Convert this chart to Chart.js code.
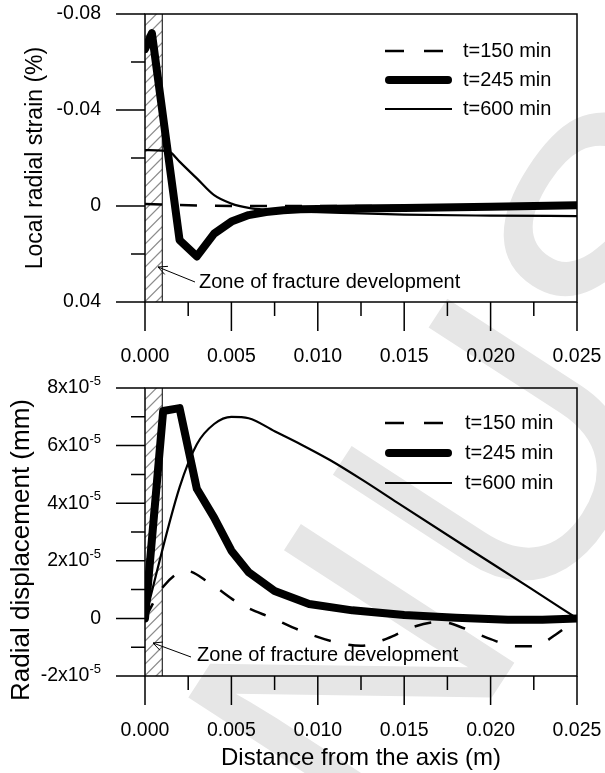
<!DOCTYPE html>
<html>
<head>
<meta charset="utf-8">
<script src="https://cdn.jsdelivr.net/npm/chart.js@4.4.1/dist/chart.umd.min.js"></script>
<style>
  html, body { margin: 0; padding: 0; background: #fff; }
  #wrap { position: relative; width: 605px; height: 773px; overflow: hidden; }
  #mark { position: absolute; left: 0; top: 0; }
  .box { position: absolute; left: 0; width: 605px; }
  #top { top: 0; height: 372px; }
  #bottom { top: 372px; height: 401px; }
</style>
</head>
<body>
<div id="wrap">
  <canvas id="mark" width="605" height="773"></canvas>
  <div class="box" id="top"><canvas id="strainChart"></canvas></div>
  <div class="box" id="bottom"><canvas id="dispChart"></canvas></div>
</div>
<script>
// ---------- distance axis (m) ----------
const xMajorTicks = [0, 0.005, 0.010, 0.015, 0.020, 0.025];
const xMinorTicks = [0.0025, 0.0075, 0.0125, 0.0175, 0.0225];
const xTickLabels = ["0.000", "0.005", "0.010", "0.015", "0.020", "0.025"];
const zoneWidth = 0.001; // fracture zone next to the axis

// ---------- local radial strain (%) ----------
const strainMajorTicks = [-0.08, -0.04, 0, 0.04];
const strainMinorTicks = [-0.06, -0.02, 0.02];
const strainTickLabels = ["-0.08", "-0.04", "0", "0.04"];

const rStrain150 = [0, 0.001, 0.003, 0.005, 0.010, 0.015, 0.020, 0.025];
const strain150  = [-0.0008, -0.0006, -0.0002, 0, 0, 0, 0, 0];

const rStrain245 = [0, 0.0004, 0.002, 0.003, 0.004, 0.005, 0.006, 0.007, 0.008, 0.009, 0.010, 0.012, 0.015, 0.020, 0.025];
const strain245  = [-0.0654, -0.072, 0.0142, 0.021, 0.0115, 0.0065, 0.0038, 0.0025, 0.0018, 0.0014, 0.0012, 0.001, 0.0008, 0.0003, -0.0003];

const rStrain600 = [0, 0.001, 0.0015, 0.002, 0.003, 0.004, 0.005, 0.006, 0.007, 0.008, 0.010, 0.012, 0.015, 0.020, 0.025];
const strain600  = [-0.0233, -0.0231, -0.0222, -0.0185, -0.0115, -0.0045, -0.001, 0.0008, 0.0016, 0.002, 0.0026, 0.003, 0.0036, 0.004, 0.0042];

// ---------- radial displacement (mm) ----------
const dispMajorTicks = [-2e-5, 0, 2e-5, 4e-5, 6e-5, 8e-5];
const dispMinorTicks = [-1e-5, 1e-5, 3e-5, 5e-5, 7e-5];
const dispTickBase = ["-2x10", "0", "2x10", "4x10", "6x10", "8x10"];
const dispTickExp  = ["-5", "", "-5", "-5", "-5", "-5"];

const rDisp150 = [0, 0.00105, 0.0024, 0.0038, 0.0055, 0.0074, 0.0094, 0.0112, 0.0125, 0.014, 0.0155, 0.0171, 0.0185, 0.020, 0.0215, 0.0225, 0.0238, 0.025];
const disp150  = [0, 1.1e-5, 1.65e-5, 1.2e-5, 0.5e-5, 0, -0.52e-5, -0.85e-5, -0.95e-5, -0.7e-5, -0.3e-5, -0.12e-5, -0.35e-5, -0.72e-5, -0.97e-5, -0.97e-5, -0.55e-5, 0];

const rDisp245 = [0, 0.00105, 0.002, 0.003, 0.004, 0.005, 0.006, 0.0075, 0.0095, 0.012, 0.015, 0.018, 0.021, 0.023, 0.025];
const disp245  = [0, 7.2e-5, 7.3e-5, 4.5e-5, 3.5e-5, 2.35e-5, 1.6e-5, 0.95e-5, 0.5e-5, 0.28e-5, 0.12e-5, 0.02e-5, -0.05e-5, -0.05e-5, 0];

const rDisp600 = [0, 0.002, 0.003, 0.004, 0.005, 0.006, 0.0075, 0.009, 0.0107, 0.0126, 0.0146, 0.0184, 0.0223, 0.025];
const disp600  = [0, 4.55e-5, 6.05e-5, 6.75e-5, 7.0e-5, 6.95e-5, 6.5e-5, 6.05e-5, 5.5e-5, 4.8e-5, 4.02e-5, 2.55e-5, 1.05e-5, 0];

const seriesLabels = ["t=150 min", "t=245 min", "t=600 min"];

const FONT = '"Liberation Sans", Arial, Helvetica, sans-serif';

const pts = (xs, ys) => xs.map((x, i) => ({ x: x, y: ys[i] }));

// faint diagonal stamp behind both plots
(function drawStamp() {
  const ctx = document.getElementById("mark").getContext("2d");
  ctx.save();
  ctx.translate(83, 1327);
  ctx.rotate(-57 * Math.PI / 180);
  ctx.font = "370px " + FONT;
  ctx.fillStyle = "#e6e6e6";
  ctx.textBaseline = "alphabetic";
  ctx.fillText("MANUSCRIPT", 0, 0);
  ctx.restore();
})();

// the three line styles: dashed / thick / thin
function makeDatasets(set150, set245, set600) {
  return [
    { label: seriesLabels[0], data: set150, borderColor: "#000", borderWidth: 2.5, borderDash: [17, 18], pointRadius: 0, cubicInterpolationMode: "monotone", order: 3 },
    { label: seriesLabels[1], data: set245, borderColor: "#000", borderWidth: 8, borderCapStyle: "round", borderJoinStyle: "round", pointRadius: 0, tension: 0, order: 2 },
    { label: seriesLabels[2], data: set600, borderColor: "#000", borderWidth: 2.2, borderJoinStyle: "round", pointRadius: 0, cubicInterpolationMode: "monotone", order: 1 }
  ];
}

// frame, ticks, labels, hatch zone, key and annotation
const framePlugin = {
  id: "frame",
  beforeDatasetsDraw(chart) {
    const { ctx, chartArea: a, scales: { x } } = chart;
    const x0 = x.getPixelForValue(0), x1 = x.getPixelForValue(zoneWidth);
    const w = x1 - x0;
    ctx.save();
    ctx.fillStyle = "#fff";
    ctx.fillRect(x0, a.top, w, a.bottom - a.top);
    ctx.beginPath();
    ctx.rect(x0, a.top, w, a.bottom - a.top);
    ctx.clip();
    ctx.strokeStyle = "#8c8c8c";
    ctx.lineWidth = 1.2;
    for (let yy = a.top; yy < a.bottom + w + 12; yy += 11.5) {
      ctx.beginPath();
      ctx.moveTo(x0, yy);
      ctx.lineTo(x1, yy - w);
      ctx.stroke();
    }
    ctx.restore();
    ctx.save();
    ctx.strokeStyle = "#000";
    ctx.lineWidth = 1;
    ctx.beginPath();
    ctx.moveTo(x1, a.top);
    ctx.lineTo(x1, a.bottom);
    ctx.stroke();
    ctx.restore();
  },
  afterDraw(chart, args, o) {
    const { ctx, chartArea: a, scales: { x, y } } = chart;
    ctx.save();
    ctx.strokeStyle = "#000";
    ctx.fillStyle = "#000";
    ctx.lineWidth = 1.5;
    ctx.strokeRect(a.left, a.top, a.right - a.left, a.bottom - a.top);

    ctx.beginPath();
    xMajorTicks.forEach(v => { const p = x.getPixelForValue(v); ctx.moveTo(p, a.bottom); ctx.lineTo(p, a.bottom + 29); });
    xMinorTicks.forEach(v => { const p = x.getPixelForValue(v); ctx.moveTo(p, a.bottom); ctx.lineTo(p, a.bottom + 14); });
    o.yMajor.forEach(v => { const p = y.getPixelForValue(v); ctx.moveTo(a.left - 29, p); ctx.lineTo(a.left, p); });
    o.yMinor.forEach(v => { const p = y.getPixelForValue(v); ctx.moveTo(a.left - 14, p); ctx.lineTo(a.left, p); });
    ctx.stroke();

    // tick labels
    ctx.font = "19.5px " + FONT;
    ctx.textBaseline = "middle";
    ctx.textAlign = "center";
    xMajorTicks.forEach((v, i) => ctx.fillText(xTickLabels[i], x.getPixelForValue(v), a.bottom + 55));

    const right = a.left - 44;
    o.yMajor.forEach((v, i) => {
      const p = y.getPixelForValue(v);
      let r = right;
      const sup = o.yExp ? o.yExp[i] : "";
      if (sup) {
        ctx.font = "13px " + FONT;
        ctx.textAlign = "right";
        ctx.textBaseline = "alphabetic";
        ctx.fillText(sup, r, p - 3);
        r -= ctx.measureText(sup).width;
      }
      ctx.font = "19.5px " + FONT;
      ctx.textAlign = "right";
      ctx.textBaseline = "middle";
      ctx.fillText(o.yLabels[i], r, p);
    });

    // axis titles
    ctx.save();
    ctx.translate(o.yTitleX, o.yTitleY);
    ctx.rotate(-Math.PI / 2);
    ctx.font = o.yTitleSize + "px " + FONT;
    ctx.textAlign = "center";
    ctx.textBaseline = "middle";
    ctx.fillText(o.yTitle, 0, 0);
    ctx.restore();
    if (o.xTitle) {
      ctx.font = "24px " + FONT;
      ctx.textAlign = "center";
      ctx.textBaseline = "middle";
      ctx.fillText(o.xTitle, (a.left + a.right) / 2, o.xTitleY);
    }

    // key
    chart.data.datasets.forEach((ds, i) => {
      const ry = o.keyRows[i];
      ctx.save();
      ctx.lineWidth = ds.borderWidth;
      ctx.setLineDash(ds.borderDash ? [19, 20] : []);
      ctx.lineCap = ds.borderCapStyle === "round" ? "round" : "butt";
      const inset = ds.borderCapStyle === "round" ? 4 : 0;
      ctx.beginPath();
      ctx.moveTo(o.keyX0 + inset, ry);
      ctx.lineTo(o.keyX1 - inset, ry);
      ctx.stroke();
      ctx.restore();
      ctx.font = "20px " + FONT;
      ctx.textAlign = "left";
      ctx.textBaseline = "middle";
      ctx.fillText(ds.label, o.keyTextX, ry);
    });

    // fracture zone callout
    const n = o.note;
    ctx.lineWidth = 1;
    ctx.beginPath();
    ctx.moveTo(n.tail[0], n.tail[1]);
    ctx.lineTo(n.tip[0], n.tip[1]);
    const ang = Math.atan2(n.tail[1] - n.tip[1], n.tail[0] - n.tip[0]);
    [0.45, -0.45].forEach(d => {
      ctx.moveTo(n.tip[0], n.tip[1]);
      ctx.lineTo(n.tip[0] + 10 * Math.cos(ang + d), n.tip[1] + 10 * Math.sin(ang + d));
    });
    ctx.stroke();
    ctx.font = "20px " + FONT;
    ctx.textAlign = "left";
    ctx.textBaseline = "middle";
    ctx.fillText("Zone of fracture development", n.text[0], n.text[1]);
    ctx.restore();
  }
};

function buildChart(id, cfg) {
  return new Chart(document.getElementById(id), {
    type: "line",
    data: { datasets: cfg.datasets },
    options: {
      responsive: true,
      maintainAspectRatio: false,
      animation: false,
      events: [],
      layout: { padding: { top: cfg.padTop, right: 28, left: 0, bottom: 0 } },
      plugins: { legend: { display: false }, tooltip: { enabled: false }, frame: cfg.frame },
      scales: {
        x: {
          type: "linear", min: 0, max: 0.025,
          ticks: { display: false }, grid: { display: false }, border: { display: false },
          afterFit: s => { s.height = cfg.xHeight; }
        },
        y: {
          type: "linear", min: cfg.yMin, max: cfg.yMax, reverse: !!cfg.reverse,
          ticks: { display: false }, grid: { display: false }, border: { display: false },
          afterFit: s => { s.width = 145; }
        }
      }
    },
    plugins: [framePlugin]
  });
}

// local radial strain, compression up
buildChart("strainChart", {
  datasets: makeDatasets(pts(rStrain150, strain150), pts(rStrain245, strain245), pts(rStrain600, strain600)),
  padTop: 14, xHeight: 70, yMin: -0.08, yMax: 0.04, reverse: true,
  frame: {
    yMajor: strainMajorTicks, yMinor: strainMinorTicks, yLabels: strainTickLabels,
    yTitle: "Local radial strain (%)", yTitleX: 36, yTitleY: 158, yTitleSize: 23,
    keyX0: 385, keyX1: 452, keyTextX: 463, keyRows: [51, 80, 109],
    note: { tip: [158, 267], tail: [195, 282], text: [199, 282] }
  }
});

// radial displacement
buildChart("dispChart", {
  datasets: makeDatasets(pts(rDisp150, disp150), pts(rDisp245, disp245), pts(rDisp600, disp600)),
  padTop: 16, xHeight: 97, yMin: -2e-5, yMax: 8e-5,
  frame: {
    yMajor: dispMajorTicks, yMinor: dispMinorTicks, yLabels: dispTickBase, yExp: dispTickExp,
    yTitle: "Radial displacement (mm)", yTitleX: 22, yTitleY: 178, yTitleSize: 26,
    xTitle: "Distance from the axis (m)", xTitleY: 386,
    keyX0: 385, keyX1: 452, keyTextX: 465, keyRows: [51, 81, 111],
    note: { tip: [153, 271], tail: [191, 285], text: [197, 283] }
  }
});
</script>
</body>
</html>
